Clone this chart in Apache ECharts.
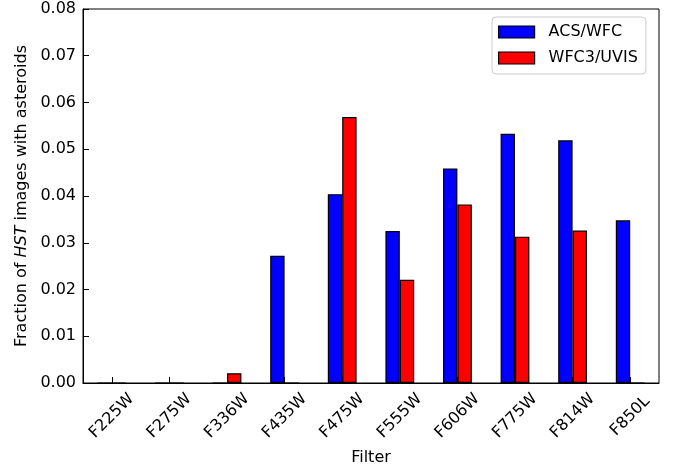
<!DOCTYPE html>
<html>
<head>
<meta charset="utf-8">
<script src="https://cdn.jsdelivr.net/npm/echarts@6/dist/echarts.min.js"></script>
<style>
html,body{margin:0;padding:0;background:#fff;}
#chart{width:676px;height:472px;}
</style>
</head>
<body>
<div id="chart"></div>
<script>
const categories = ['F225W','F275W','F336W','F435W','F475W','F555W','F606W','F775W','F814W','F850L'];
const acsWfc   = [0, 0, 0, 0.0272, 0.0404, 0.0325, 0.0459, 0.0533, 0.0519, 0.0348];
const wfc3Uvis = [0, 0, 0.0021, 0, 0.0569, 0.0221, 0.0382, 0.0313, 0.0326, 0];
const yTicks = [0, 0.01, 0.02, 0.03, 0.04, 0.05, 0.06, 0.07, 0.08];

const FONT = 'DejaVu Sans';
const chart = echarts.init(document.getElementById('chart'), null, {renderer:'canvas'});
chart.setOption({
  animation: false,
  backgroundColor: '#ffffff',
  textStyle: {fontFamily: FONT},
  grid: {left: 83, right: 17, top: 9, bottom: 89, show: true, borderColor: '#000', borderWidth: 1, backgroundColor: 'transparent'},
  legend: {
    orient: 'vertical',
    left: 492, top: 17,
    padding: [7, 8, 8, 6],
    itemGap: 10,
    itemWidth: 36, itemHeight: 12,
    icon: 'rect',
    borderColor: '#cccccc', borderWidth: 1, borderRadius: 4,
    backgroundColor: 'rgba(255,255,255,0.8)',
    itemStyle: {borderColor: '#000', borderWidth: 1.2},
    textStyle: {fontFamily: FONT, fontSize: 16, color: '#000', lineHeight: 16, padding: [0,0,0,9]},
    data: ['ACS/WFC', 'WFC3/UVIS']
  },
  xAxis: {
    type: 'category',
    data: categories,
    boundaryGap: true,
    name: 'Filter',
    nameLocation: 'middle',
    nameGap: 67,
    nameTextStyle: {fontFamily: FONT, fontSize: 16, color: '#000'},
    axisLine: {show: true, lineStyle: {color: '#000', width: 1}},
    axisTick: {show: true, inside: true, length: 6, alignWithLabel: true, lineStyle: {color: '#000', width: 1}},
    axisLabel: {rotate: 45, align: 'center', verticalAlign: 'middle', margin: 33, fontFamily: FONT, fontSize: 16, color: '#000', interval: 0},
    splitLine: {show: false}
  },
  yAxis: {
    type: 'value',
    min: 0, max: 0.08, interval: 0.01,
    name: '{n|Fraction of }{i|HST}{n| images with asteroids}',
    nameLocation: 'middle',
    nameGap: 53,
    nameRotate: 90,
    nameTextStyle: {
      fontFamily: FONT, fontSize: 16, color: '#000',
      rich: {
        n: {fontFamily: FONT, fontSize: 16, color: '#000'},
        i: {fontFamily: FONT, fontSize: 16, color: '#000', fontStyle: 'italic'}
      }
    },
    axisLine: {show: true, lineStyle: {color: '#000', width: 1}},
    axisTick: {show: true, inside: true, length: 6, lineStyle: {color: '#000', width: 1}},
    axisLabel: {margin: 7, fontFamily: FONT, fontSize: 16, color: '#000', formatter: v => v.toFixed(2)},
    splitLine: {show: false}
  },
  series: [
    {
      name: 'ACS/WFC', type: 'bar', data: acsWfc,
      barWidth: 14.4, barGap: '0%',
      itemStyle: {color: '#0000ff', borderColor: '#000', borderWidth: 1.2}
    },
    {
      name: 'WFC3/UVIS', type: 'bar', data: wfc3Uvis,
      barWidth: 14.4, barGap: '0%',
      itemStyle: {color: '#ff0000', borderColor: '#000', borderWidth: 1.2}
    }
  ]
});
</script>
</body>
</html>
